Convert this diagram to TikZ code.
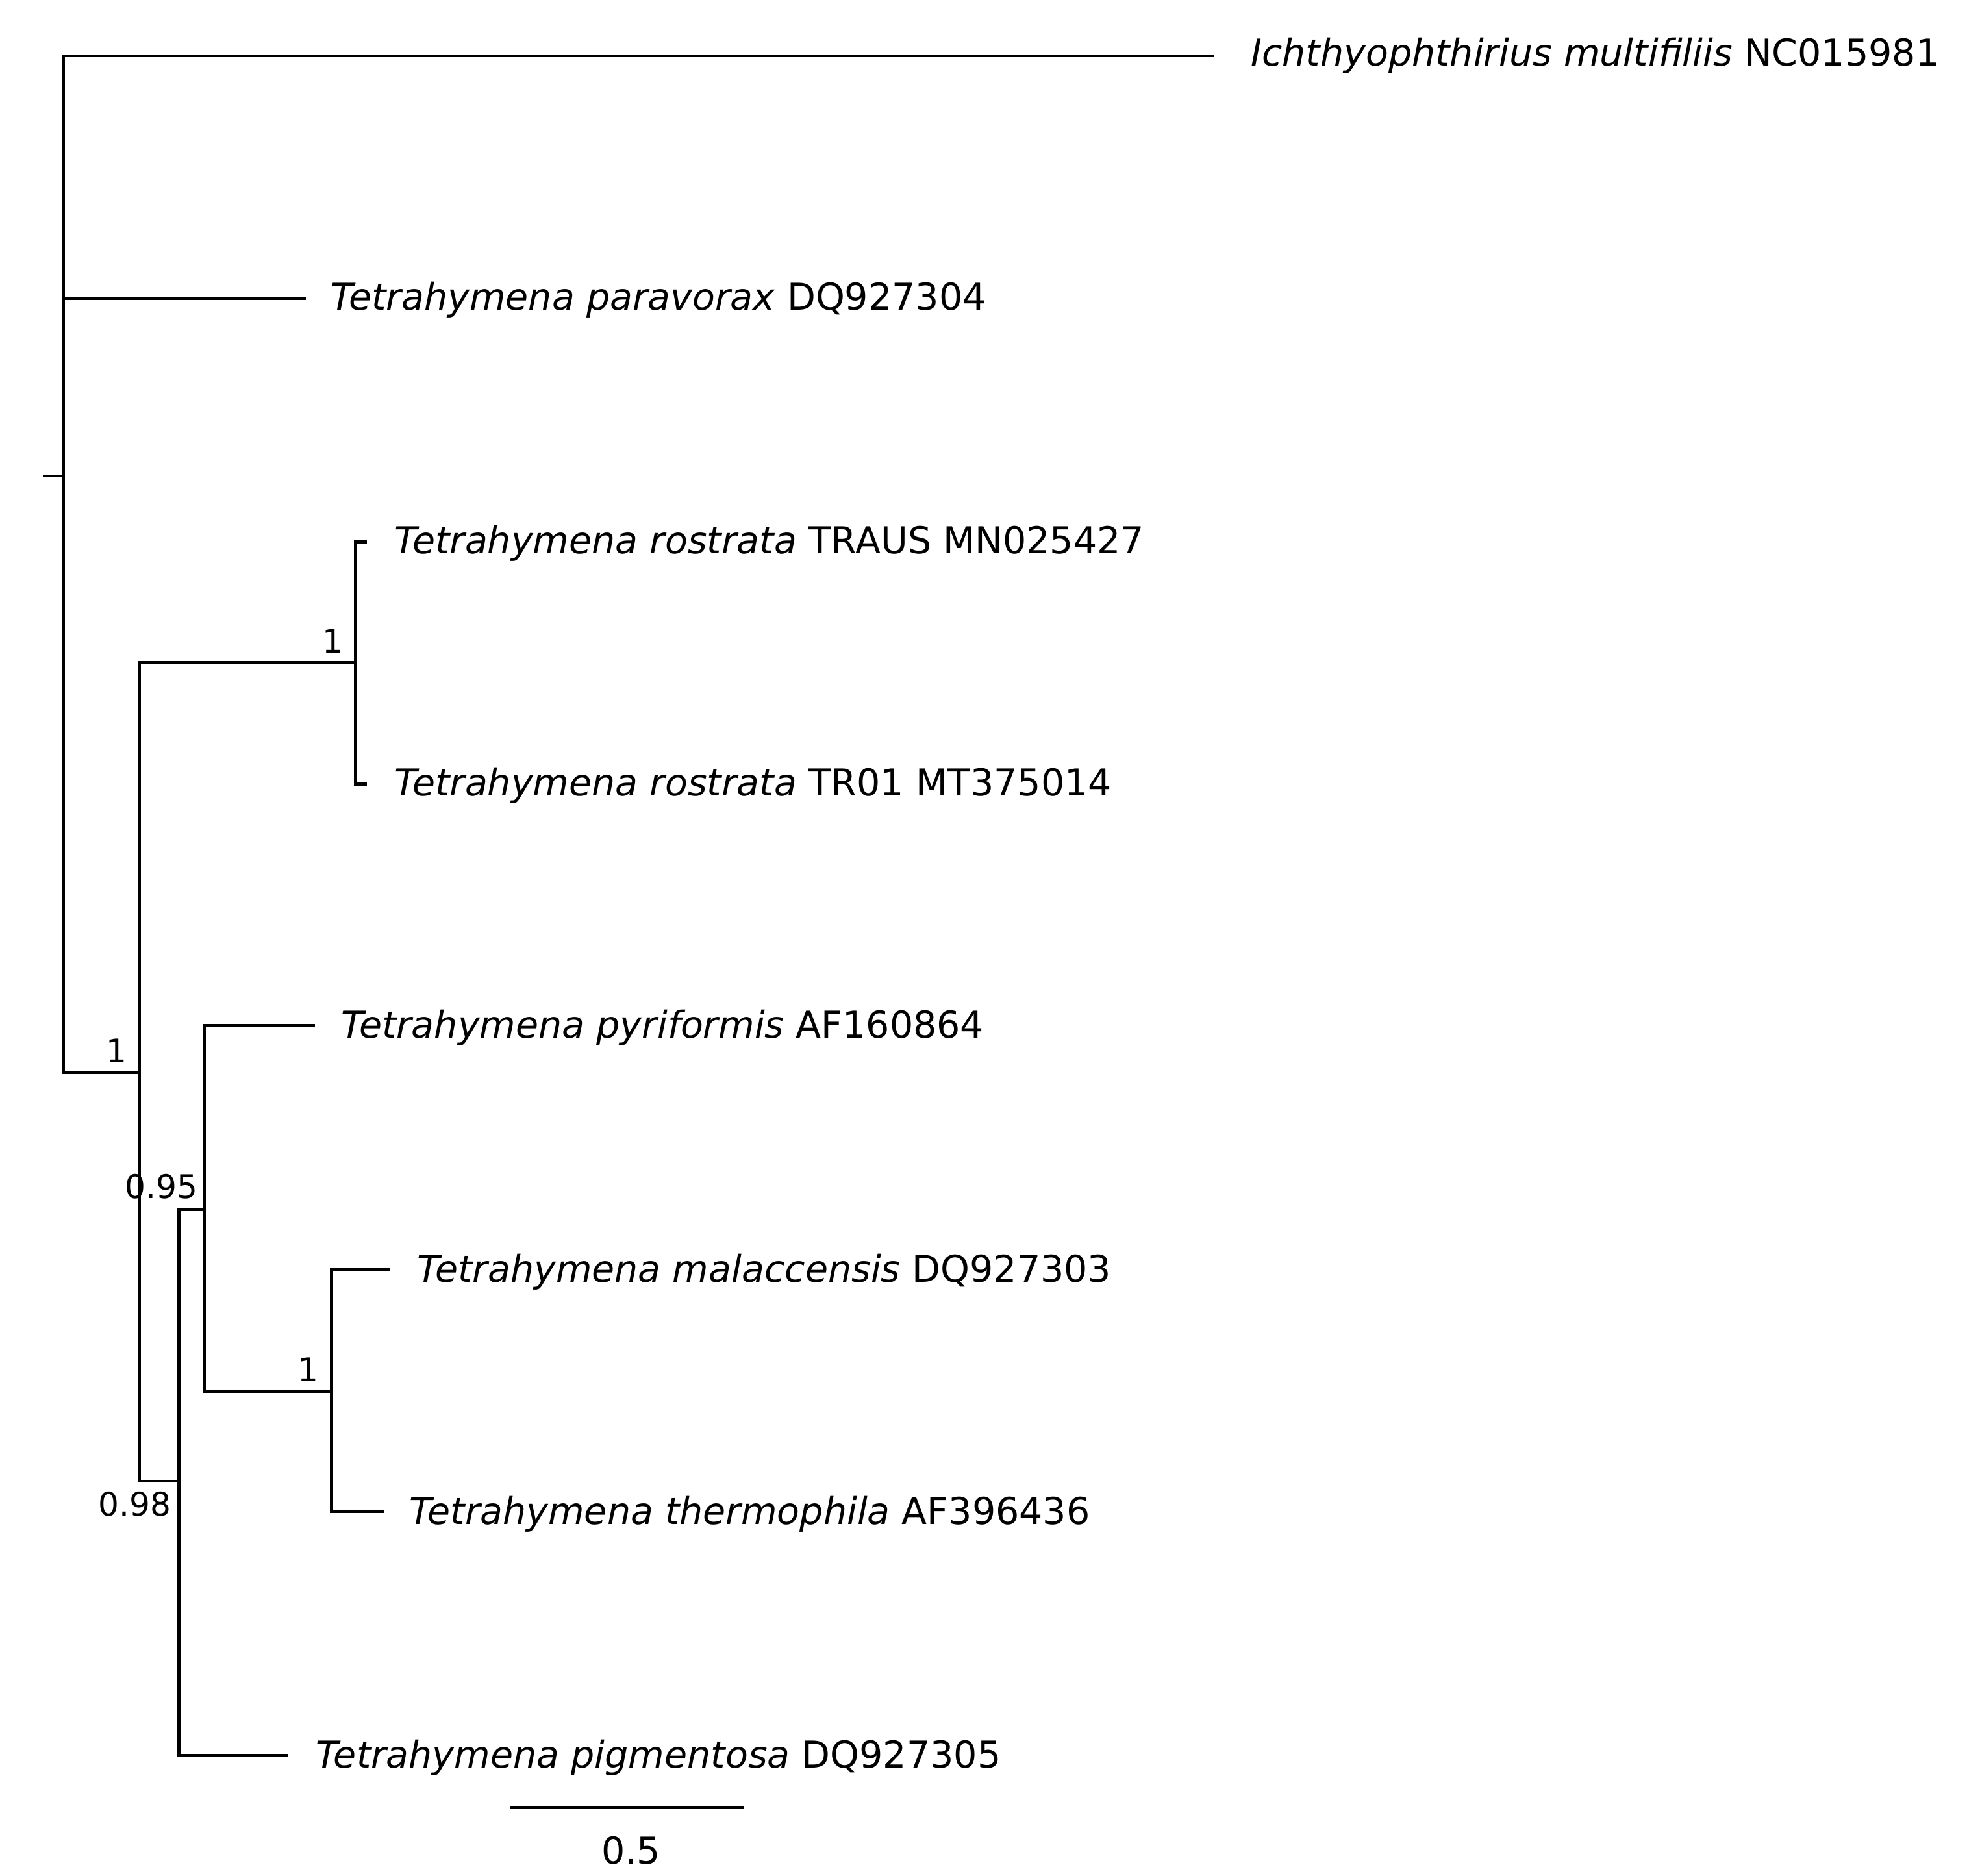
\documentclass[tikz,border=0pt]{standalone}
\usepackage{fontspec}
\setmainfont{DejaVu Sans}
\begin{document}
\begin{tikzpicture}[x=0.01cm,y=-0.01cm,
  br/.style={line width=0.7pt,line cap=rect},
  lab/.style={anchor=west,inner sep=0pt,font=\fontsize{8.3pt}{9pt}\selectfont},
  sup/.style={inner sep=0pt,font=\fontsize{7.3pt}{8pt}\selectfont}]
\useasboundingbox (0,0) rectangle (1560,1478);
% coordinates
\coordinate (r) at (35,375);
\coordinate (r0) at (50,375);
\coordinate (rT) at (50,44);
\coordinate (rB) at (50,845);
\coordinate (A) at (110,845);
\coordinate (AT) at (110,522);
\coordinate (AB) at (110,1167);
\coordinate (R) at (280,522);
\coordinate (RT) at (280,427);
\coordinate (RB) at (280,618);
\coordinate (B) at (141,1167);
\coordinate (BT) at (141,953);
\coordinate (BB) at (141,1383);
\coordinate (C) at (161,953);
\coordinate (CT) at (161,808);
\coordinate (CB) at (161,1096);
\coordinate (D) at (261,1096);
\coordinate (DT) at (261,1000);
\coordinate (DB) at (261,1191);
% tips
\coordinate (t1) at (955,44);
\coordinate (t2) at (240,235);
\coordinate (t3) at (288,427);
\coordinate (t4) at (288,618);
\coordinate (t5) at (247,808);
\coordinate (t6) at (306,1000);
\coordinate (t7) at (301,1191);
\coordinate (t8) at (226,1383);
\draw[br] (r) -- (r0);
\draw[br] (rT) -- (rB);
\draw[br] (rT) -- (t1);
\draw[br] (50,235) -- (t2);
\draw[br] (rB) -- (A);
\draw[br] (AT) -- (AB);
\draw[br] (AT) -- (R);
\draw[br] (RT) -- (RB);
\draw[br] (RT) -- (t3);
\draw[br] (RB) -- (t4);
\draw[br] (AB) -- (B);
\draw[br] (BT) -- (BB);
\draw[br] (BB) -- (t8);
\draw[br] (BT) -- (C);
\draw[br] (CT) -- (CB);
\draw[br] (CT) -- (t5);
\draw[br] (CB) -- (D);
\draw[br] (DT) -- (DB);
\draw[br] (DT) -- (t6);
\draw[br] (DB) -- (t7);
% labels
\node[lab] (l1) at (985,44) {\textit{Ichthyophthirius multifiliis} NC015981};
\node[lab] (l2) at (260,236) {\textit{Tetrahymena paravorax} DQ927304};
\node[lab] (l3) at (310,428) {\textit{Tetrahymena rostrata} TRAUS MN025427};
\node[lab] (l4) at (310,619) {\textit{Tetrahymena rostrata} TR01 MT375014};
\node[lab] (l5) at (268,810) {\textit{Tetrahymena pyriformis} AF160864};
\node[lab] (l6) at (328,1002) {\textit{Tetrahymena malaccensis} DQ927303};
\node[lab] (l7) at (322,1193) {\textit{Tetrahymena thermophila} AF396436};
\node[lab] (l8) at (248,1385) {\textit{Tetrahymena pigmentosa} DQ927305};
% supports
\node[sup] (s1) at (92,828) {1};
\node[sup] (s2) at (262,505) {1};
\node[sup] (s3) at (127,935) {0.95};
\node[sup] (s4) at (106,1185) {0.98};
\node[sup] (s5) at (243,1079) {1};
% scale bar
\coordinate (sb1) at (403,1424);
\coordinate (sb2) at (585,1424);
\draw[br] (sb1) -- (sb2);
\node[sup,font=\fontsize{8.3pt}{9pt}\selectfont] (sb) at (497,1458) {0.5};
\end{tikzpicture}
\end{document}
